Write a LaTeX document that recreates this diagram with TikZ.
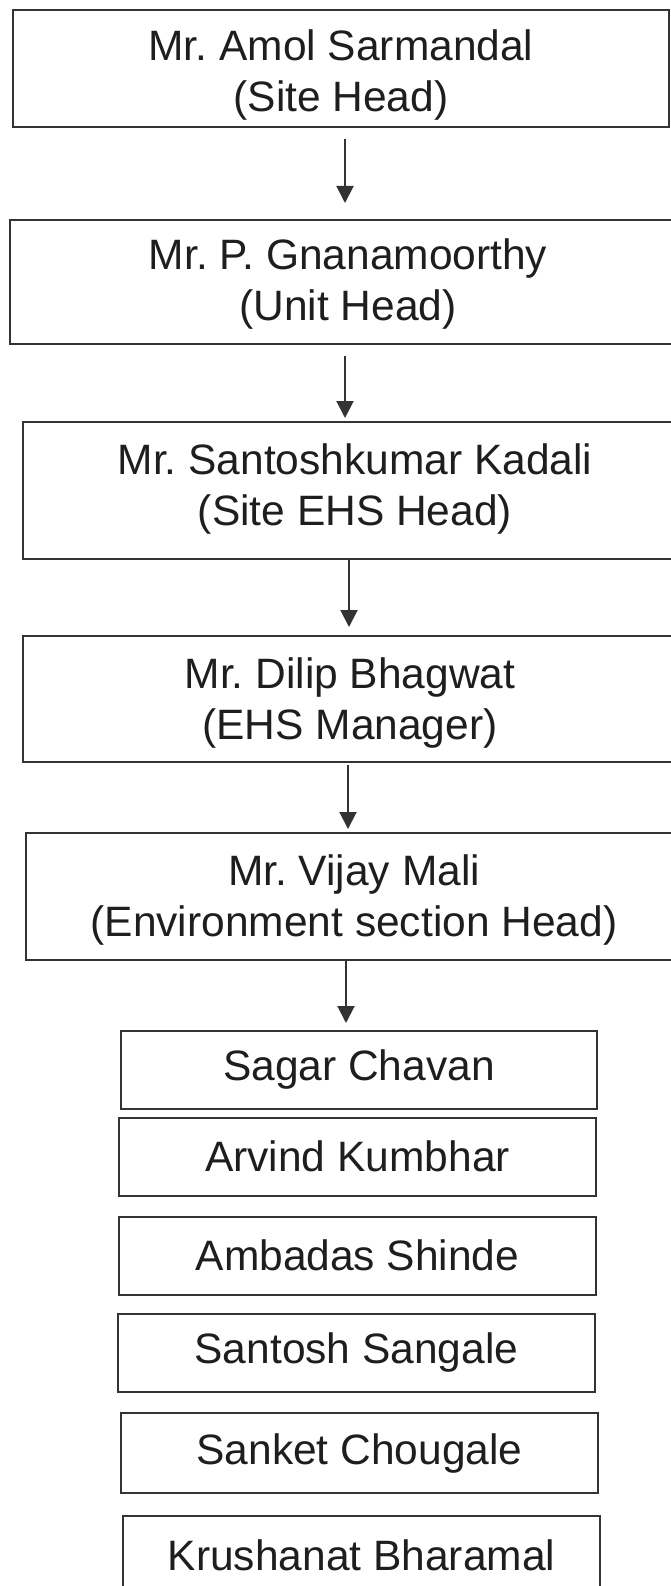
\documentclass[tikz,border=0pt]{standalone}
\usepackage{fontspec}
\setmainfont{Liberation Sans}
\usetikzlibrary{arrows.meta}
\definecolor{ink}{HTML}{1E1E1E}
\definecolor{edge}{HTML}{333333}
\tikzset{
  bigbox/.style={draw=edge, line width=2pt, rectangle, inner sep=0pt},
  bigtext/.style={inner sep=0pt, align=center, font=\fontsize{42.5}{51}\selectfont, text=ink},
  namebox/.style={draw=edge, line width=2pt, rectangle, inner sep=0pt, align=center,
    minimum width=477pt, minimum height=78pt, font=\fontsize{42.5}{51}\selectfont, text=ink},
  arr/.style={draw=edge, line width=2pt, -{Triangle[width=17pt,length=17pt]}}
}
\frenchspacing
\begin{document}
\begin{tikzpicture}[x=1pt,y=-1pt]
\useasboundingbox[fill=white] (0,0) rectangle (670,1586);
% top chain boxes
\node[bigbox, minimum width=656pt, minimum height=117pt] (n1) at (341,68.5) {};
\node[bigbox, minimum width=676pt, minimum height=124pt] (n2) at (348,282) {};
\node[bigbox, minimum width=664pt, minimum height=137pt] (n3) at (355,490.5) {};
\node[bigbox, minimum width=654pt, minimum height=126pt] (n4) at (350,699) {};
\node[bigbox, minimum width=656pt, minimum height=127pt] (n5) at (354,896.5) {};
% their texts
\node[bigtext] (t1) at ([yshift=-7pt]n1.center) {Mr. Amol Sarmandal\\(Site Head)};
\node[bigtext] (t2) at ([yshift=-2pt]n2.center) {Mr. P. Gnanamoorthy\\(Unit Head)};
\node[bigtext] (t3) at ([yshift=1.5pt]n3.center) {Mr. Santoshkumar Kadali\\(Site EHS Head)};
\node[bigtext] (t4) at ([yshift=-4pt]n4.center) {Mr. Dilip Bhagwat\\(EHS Manager)};
\node[bigtext] (t5) at ([yshift=-3.5pt]n5.center) {Mr. Vijay Mali\\(Environment section Head)};
% team members
\node[namebox, minimum width=476pt] (m1) at (359,1070) {Sagar Chavan};
\node[namebox] (m2) at (357.5,1156.5) {Arvind Kumbhar};
\node[namebox] (m3) at (357.5,1255.5) {Ambadas Shinde};
\node[namebox] (m4) at (356.5,1352.5) {Santosh Sangale};
\node[namebox, minimum height=80pt] (m5) at (359.5,1453) {Sanket Chougale};
\node[namebox] (m6) at (361.5,1555) {Krushanat Bharamal};
% arrow columns
\coordinate (c1) at (345,0);
\coordinate (c3) at (349,0);
\coordinate (c4) at (348,0);
\coordinate (c5) at (346,0);
\draw[arr, shorten <=11pt, shorten >=16pt] (n1.south -| c1) -- (n2.north -| c1);
\draw[arr, shorten <=11pt, shorten >=3pt] (n2.south -| c1) -- (n3.north -| c1);
\draw[arr, shorten >=8pt] (n3.south -| c3) -- (n4.north -| c3);
\draw[arr, shorten <=2pt, shorten >=3pt] (n4.south -| c4) -- (n5.north -| c4);
\draw[arr, shorten >=7pt] (n5.south -| c5) -- (m1.north -| c5);
\end{tikzpicture}
\end{document}
